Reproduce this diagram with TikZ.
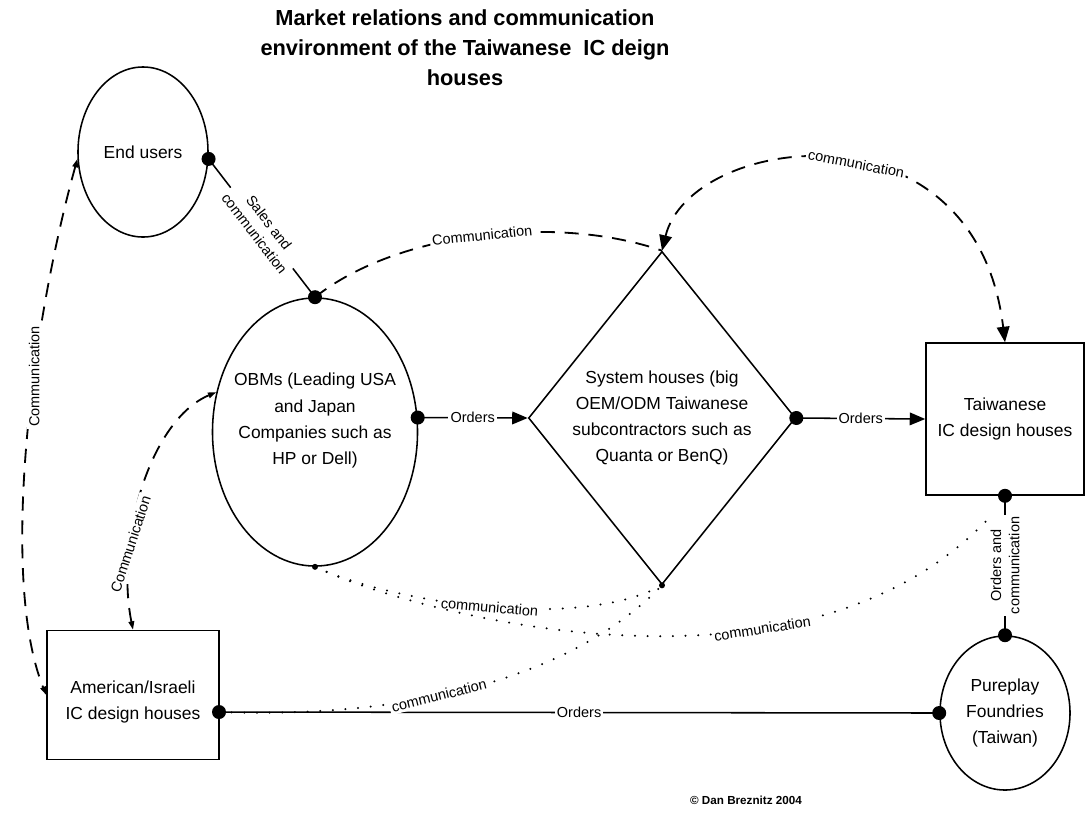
\documentclass[tikz,border=0pt]{standalone}
\usepackage{fontspec}
\setmainfont{Liberation Sans}
\usetikzlibrary{shapes.geometric,arrows.meta}

\tikzset{
  block/.style={draw, line width=1.1pt, align=center, inner sep=0pt, font=\fontsize{12.4}{18.7}\selectfont},
  oval/.style={block, ellipse},
  rhomb/.style={block, diamond, aspect=0.8},
  rel/.style={fill=white, inner sep=1.5pt, align=center, font=\fontsize{10.3}{13}\selectfont},
  orders/.style={line width=1.1pt, -{Triangle[length=11pt,width=9pt]}},
  talk/.style={line width=1.3pt, dash pattern=on 10pt off 7pt},
  chat/.style={line width=1.6pt, line cap=round, dash pattern=on 0pt off 9pt},
  bigtips/.style={{Triangle[length=11pt,width=9pt]}-{Triangle[length=11pt,width=9pt]}},
  smalltips/.style={{Triangle[length=6pt,width=4pt]}-{Triangle[length=6pt,width=4pt]}},
  knob/.style={circle, fill, inner sep=0pt, minimum size=0.35cm},
  speck/.style={circle, fill, inner sep=0pt, minimum size=0.15cm}
}

\begin{document}
\begin{tikzpicture}[x=0.025cm, y=-0.025cm]
    \useasboundingbox (0,0) rectangle (1090,817);

    % Title
    \node[align=center, font=\bfseries\fontsize{15.5}{21.3}\selectfont] (title) at (465,48)
        {Market relations and communication\\environment of the Taiwanese\ \ IC deign\\houses};

    % Actors
    \node[oval, minimum width=3.25cm, minimum height=4.25cm] (users) at (143,152) {End users};
    \node[oval, inner xsep=-6pt, minimum width=4.85cm, minimum height=6.7cm] (obm) at (315,432)
        {OBMs (Leading USA\\and Japan\\Companies such as\\HP or Dell)\\\mbox{}};
    \node[rhomb, minimum width=6.675cm, minimum height=8.325cm] (sys) at (662,418)
        {System houses (big\\OEM/ODM Taiwanese\\subcontractors such as\\Quanta or BenQ)};
    \node[block, minimum width=3.95cm, minimum height=3.8cm] (twn) at (1005,419) {Taiwanese\\IC design houses};
    \node[block, minimum width=4.3cm, minimum height=3.225cm] (usil) at (133,695)
        {\mbox{}\\American/Israeli\\IC design houses};
    \node[oval, minimum width=3.25cm, minimum height=3.85cm] (fab) at (1005,713) {Pureplay\\Foundries\\(Taiwan)};
    \coordinate (twnfoot) at (990,517);
    \coordinate (usilside) at (219,712);

    % Orders
    \draw[orders] (obm.8) -- (sys.west) node[midway, rel] {Orders};
    \draw[orders] (sys.east) -- (twn.west) node[midway, rel] {Orders};
    \draw[line width=1.1pt] (usilside) -- (fab.west) node[midway, rel] {Orders};
    \draw[line width=1.1pt] (twn.south) -- (fab.north) node[midway, rel, rotate=90] {Orders and\\communication};
    \draw[line width=1.1pt] (users.-6) -- (obm.north) node[midway, rel, rotate=-52.5] {Sales and\\communication};

    % Communication (dashed)
    \draw[talk] (obm.north) .. controls (400,230) and (560,215) .. (sys.north)
        node[pos=0.5, rel, rotate=6] {Communication};
    \draw[talk, bigtips] (sys.north) .. controls (690,135) and (975,95) .. (twn.north)
        node[pos=0.55, rel, rotate=-11] {communication};
    \draw[talk, smalltips] (users.186) .. controls (30,330) and (0,580) .. (usil.west)
        node[pos=0.38, rel, rotate=90] {Communication};
    \draw[talk, smalltips] (usil.north) .. controls (115,540) and (150,420) .. (obm.158)
        node[pos=0.3, rel, rotate=72] {Communication};

    % Communication (dotted)
    \draw[chat] (obm.south) .. controls (400,605) and (580,630) .. (sys.south)
        node[pos=0.5, rel, rotate=-5] {communication};
    \draw[chat] (obm.south) .. controls (410,612) and (800,720) .. (twnfoot)
        node[pos=0.68, rel, rotate=9] {communication};
    \draw[chat] (usilside) .. controls (380,718) and (560,690) .. (sys.south)
        node[pos=0.45, rel, rotate=14] {communication};

    % Attachment dots
    \foreach \spot/\nm in {users.-6/ka, obm.north/kb, obm.8/kc, sys.east/kd,
                           twn.south/ke, fab.north/kf, usilside/kg, fab.west/kh}
        \node[knob] (\nm) at (\spot) {};
    \node[speck] (sa) at (obm.south) {};
    \node[speck] (sb) at (sys.south) {};

    % Credit
    \node[font=\bfseries\fontsize{8.3}{10}\selectfont] (credit) at (746,800) {© Dan Breznitz 2004};

\end{tikzpicture}
\end{document}
